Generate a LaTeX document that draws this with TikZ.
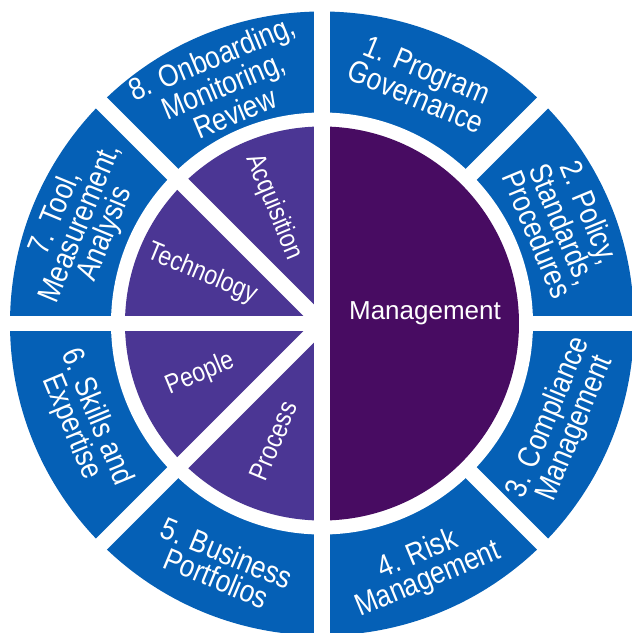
\documentclass[tikz,border=0pt]{standalone}
\usepackage{fontspec}
\setmainfont{Liberation Sans}
\newfontfamily\narrowfont{Liberation Sans}[FakeStretch=0.85]
\definecolor{ringblue}{HTML}{0560B6}
\definecolor{mgmtpurple}{HTML}{480C62}
\definecolor{pillarpurple}{HTML}{4B3694}
\tikzstyle{gapline}=[white, line width=15.5pt]
\tikzstyle{areatext}=[text=white, align=center, inner sep=0pt,
font=\narrowfont\fontsize{31}{27}\selectfont]
\tikzstyle{pillartext}=[text=white, inner sep=0pt,
font=\narrowfont\fontsize{27}{27}\selectfont]
\begin{document}
\begin{tikzpicture}[x=1pt,y=1pt]
\useasboundingbox (-322,-309.5) rectangle (310,323.5);
\clip (-322,-309.5) rectangle (310,323.5);
% outer ring
\fill[ringblue] (0,0) circle (312);
\fill[white] (0,0) circle (211);
\foreach \a in {0,45,90,135}
  \draw[gapline] (\a:330) -- (\a+180:330);
% inner disc
\fill[mgmtpurple] (0,-197) arc (-90:90:197) -- cycle;
\fill[pillarpurple] (0,197) arc (90:270:197) -- cycle;
\draw[gapline] (0,205) -- (0,-205);
\foreach \a in {135,180,225}
  \draw[gapline] (0,0) -- (\a:205);
% ring labels
\node[areatext, rotate=-22.5](govern) at (67.5:260) {1. Program\\Governance};
\node[areatext, rotate=-67.5](policy) at (22.5:262) {2. Policy,\\Standards,\\Procedures};
\node[areatext, rotate=67.5](comply) at (-22.5:260) {3. Compliance\\Management};
\node[areatext, rotate=22.5](risk) at (-67.5:264) {4. Risk\\Management};
\node[areatext, rotate=-22.5](business) at (-112.5:262) {5. Business\\Portfolios};
\node[areatext, rotate=-67.5](skills) at (-157.5:258) {6. Skills and\\Expertise};
\node[areatext, rotate=67.5](tool) at (157.5:261) {7. Tool,\\Measurement,\\Analysis};
\node[areatext, rotate=22.5](onboard) at (112.5:258) {8. Onboarding,\\Monitoring,\\Review};
% inner labels
\node[text=white, font=\fontsize{26}{26}\selectfont](mgmt) at (103,10) {Management};
\node[pillartext, rotate=-67.5](acq) at (112.5:126) {Acquisition};
\node[pillartext, rotate=-22.5](tech) at (157.5:130) {Technology};
\node[pillartext, rotate=22.5](people) at (202.5:132) {People};
\node[pillartext, rotate=67.5](process) at (247.5:127) {Process};
\end{tikzpicture}
\end{document}
